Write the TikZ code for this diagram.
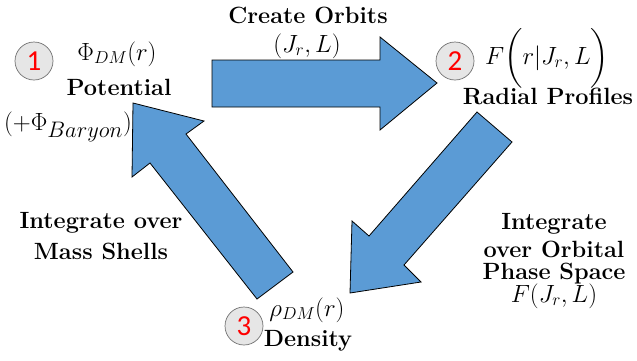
\documentclass[tikz,border=0pt]{standalone}
\usepackage{amsmath}
\usepackage{graphicx}
\usepackage{fontspec}
\newfontfamily\numfont{Carlito}
\definecolor{arrowblue}{HTML}{5B9BD5}
\definecolor{circfill}{HTML}{E6E6E6}
\definecolor{circline}{HTML}{707070}
\tikzset{
  txt/.style={inner sep=0pt, font=\fontsize{23.5}{27}\selectfont},
  btxt/.style={inner sep=0pt, font=\fontsize{23.5}{27}\selectfont\bfseries},
  numcirc/.style={circle, minimum size=38pt, inner sep=0pt, fill=circfill, draw=circline, line width=0.7pt, text=red, font=\fontsize{29}{32}\selectfont\numfont},
  bigarrow/.style={fill=arrowblue, draw=black, line width=0.8pt, line join=miter}
}
\begin{document}
\begin{tikzpicture}[x=1pt,y=-1pt]
\useasboundingbox (0,0) rectangle (637,360);
% block arrows
\draw[bigarrow] (212,60) -- (380,60) -- (380,37) -- (437,83) -- (380,130) -- (380,107) -- (212,107) -- cycle;
\draw[bigarrow] (477,112) -- (512,142) -- (404,265) -- (421,282) -- (350,293) -- (352,221) -- (369,236) -- cycle;
\draw[bigarrow] (133,103) -- (204,121) -- (186,134) -- (293,272) -- (257,299) -- (150,163) -- (132,177) -- cycle;
% node 1
\node[numcirc] (c1) at (34,61) {1};
\node[txt] (phi) at (117,54) {$\Phi_{DM}(r)$};
\node[btxt] (pot) at (119,87) {Potential};
\node[txt] (bar) at (68,127) {$(+\Phi_{\scalebox{1.3}{$\scriptstyle Baryon$}})$};
% node 2
\node[numcirc] (c2) at (455,61) {2};
\node[txt] (F) at (547,58) {$F\biggl(r|J_r,L\biggr)$};
\node[btxt] (rad) at (548,96) {Radial Profiles};
% node 3
\node[numcirc] (c3) at (244,326) {3};
\node[txt] (rho) at (307,310) {$\rho_{DM}(r)$};
\node[btxt] (dens) at (308,341) {Density};
% top label
\node[btxt] (create) at (308,15) {Create Orbits};
\node[txt] (jrl) at (307,46) {$(J_r,L)$};
% right label
\node[btxt] (r1) at (554,224) {Integrate};
\node[btxt] (r2) at (554,249) {over Orbital};
\node[btxt] (r3) at (554,274) {Phase Space};
\node[txt] (r4) at (554,296) {$F(J_r,L)$};
% left label
\node[btxt] (l1) at (101,223) {Integrate over};
\node[btxt] (l2) at (101,251) {Mass Shells};
\end{tikzpicture}
\end{document}
